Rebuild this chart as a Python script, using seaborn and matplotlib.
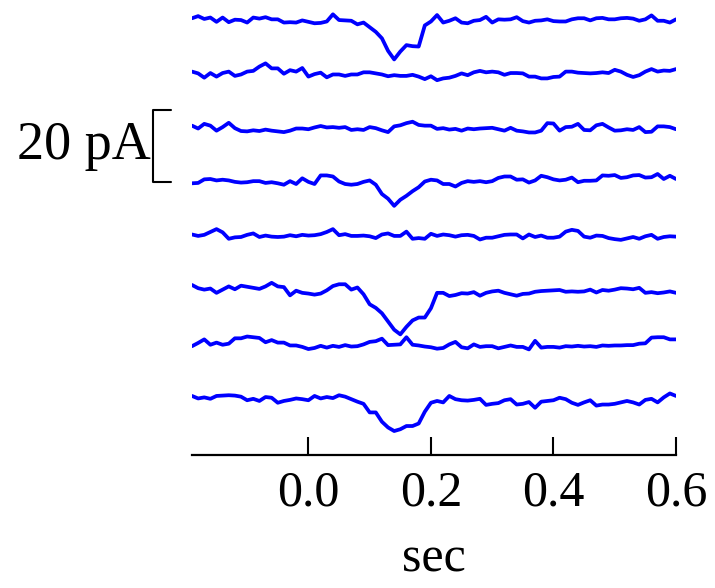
import numpy as np
import pandas as pd
import matplotlib
matplotlib.use("Agg")
import matplotlib.pyplot as plt
import matplotlib.transforms as mtransforms
import seaborn as sns

# ---- data (pA relative to each trace's baseline), sampled every 10 ms ----
time_s = np.round(np.arange(80) * 0.01 - 0.19, 2)

trace_1 = [0.5, 1.1, 0.3, 0.7, -0.5, 0.7, -0.6, 0.1, 0.0, -0.7,
           0.7, 0.4, 0.8, 0.2, 0.2, -0.7, -0.6, -0.7, -0.1, -0.5,
           -0.9, -0.8, -0.4, 1.6, 0.0, -0.1, -0.2, -1.2, -0.7, -2.0,
           -3.3, -5.1, -8.6, -11.0, -8.8, -7.0, -7.3, -7.4, -1.5, -0.4,
           1.4, -0.7, -0.2, 0.5, -0.7, -0.9, -0.2, 0.0, 0.9, -0.7,
           0.2, 0.1, 0.2, 0.8, -0.3, -0.7, -0.2, -0.1, 0.2, -0.3,
           -0.4, -0.4, 0.2, 0.5, 0.5, -0.1, 0.5, 0.6, 0.2, 0.2,
           0.5, 0.6, 0.4, -0.2, 0.2, 1.3, -0.2, -0.2, -0.7, 0.2]
trace_2 = [0.7, 0.2, -1.0, 0.3, -0.7, 0.3, 0.7, -0.5, -0.1, 0.7,
           0.9, 2.1, 3.0, 1.6, 1.6, 0.1, 1.1, 0.7, 1.7, -0.7,
           0.0, 0.4, -0.9, -0.1, -0.1, -0.5, -0.1, -0.1, 0.5, 0.5,
           0.2, -0.1, -0.6, -0.3, -0.5, -0.5, -0.2, -0.7, -1.4, -0.6,
           -1.7, -1.2, -1.0, -0.5, 0.2, -0.3, 0.5, 0.9, 0.5, 0.7,
           0.5, -0.2, 0.3, 0.3, 0.2, -0.7, -0.7, -1.2, -1.2, -0.8,
           -0.7, 0.7, 0.7, 0.4, 0.3, 0.2, 0.3, 0.5, 0.3, 1.2,
           0.7, -0.2, -0.8, -0.3, 0.7, 1.4, 0.7, 1.0, 0.9, 1.4]
trace_3 = [0.7, -0.1, 1.2, 0.7, -0.7, 0.3, 1.5, 0.0, -0.8, -0.9,
           -0.6, -0.8, -0.4, -0.7, -0.9, -1.1, -0.7, -0.1, -0.1, -0.3,
           0.2, 0.6, 0.2, 0.3, 0.1, 0.3, -0.5, -0.3, -0.5, 0.3,
           0.0, -0.6, -1.1, 0.5, 0.8, 1.4, 1.8, 0.9, 0.7, 0.7,
           -0.2, 0.0, -0.4, -0.2, -0.7, -0.1, -0.3, -0.1, 0.0, 0.1,
           -0.3, -0.7, 0.1, -0.7, -0.9, -1.2, -1.2, -0.7, 1.4, 1.3,
           -0.7, 0.3, 0.4, 1.2, -0.5, -0.6, 0.8, 1.2, 0.2, -0.7,
           -0.6, -0.3, -0.5, 0.3, -1.1, -1.0, 0.5, 0.5, 0.3, -0.3]
trace_4 = [-0.3, -0.2, 0.8, 0.9, 0.5, 0.7, 0.5, 0.1, -0.1, 0.0,
           0.3, 0.3, -0.2, 0.0, -0.3, -0.7, 0.3, -0.5, 1.1, 0.1,
           -0.5, 1.9, 1.9, 1.6, 0.2, -0.5, -0.7, -0.5, 0.1, 0.5,
           -0.7, -3.3, -4.6, -6.6, -4.9, -3.8, -2.5, -1.4, 0.2, 0.7,
           0.5, -0.5, -0.5, -1.2, -0.2, 0.3, 0.1, 0.3, 0.0, 0.3,
           1.2, 1.6, 1.6, 0.7, 0.8, -0.1, 0.5, 1.8, 1.4, 0.8,
           0.5, 0.7, 1.3, 0.0, 0.4, 0.4, 0.5, 1.9, 1.8, 2.0,
           1.2, 1.4, 1.9, 2.0, 1.3, 1.4, 2.3, 0.9, 1.8, 0.9]
trace_5 = [0.5, 0.1, 0.4, 1.2, 2.0, 1.1, -0.7, -0.3, -0.2, 0.4,
           0.8, -0.2, 0.2, -0.1, -0.2, -0.1, 0.3, 0.0, 0.4, 0.2,
           0.3, 0.6, 1.2, 2.0, 0.3, 0.6, 0.1, 0.1, 0.2, 0.0,
           -0.5, 0.5, 0.8, 0.1, 0.1, 1.3, -0.7, -0.5, -0.7, 0.7,
           0.1, 0.5, 0.3, -0.1, 0.3, 0.4, 0.1, -0.9, -0.4, -0.4,
           0.0, 0.4, 0.5, 0.5, -0.6, 0.5, -0.2, 0.2, -0.4, -0.4,
           -0.1, 1.3, 1.8, 1.5, -0.1, -0.4, 0.2, 0.1, -0.5, -0.8,
           -1.0, -0.6, -0.2, -0.7, 0.0, 0.4, -0.7, -0.2, 0.0, -0.1]
trace_6 = [1.5, 0.6, 0.2, 0.5, -0.7, 0.2, 1.1, 0.3, 1.3, 1.0,
           0.7, 0.4, 1.1, 2.1, 1.1, 0.9, -1.4, -0.1, -0.7, -0.9,
           -1.2, -0.9, 0.0, 1.2, 1.7, 1.7, 0.2, 0.8, -1.1, -3.9,
           -4.9, -6.4, -8.7, -11.0, -12.3, -10.2, -8.4, -7.6, -7.6, -5.0,
           -0.7, -0.7, -1.6, -1.3, -0.8, -0.9, -0.5, -1.5, -0.7, -0.3,
           -0.1, -0.7, -1.1, -1.5, -1.0, -0.9, -0.4, -0.2, -0.1, 0.0,
           0.1, -0.4, -0.3, -0.4, -0.3, 0.2, -0.6, 0.1, -0.1, 0.2,
           0.6, 0.5, 0.3, 0.7, -0.7, -0.5, -0.8, -0.6, -0.3, -0.7]
trace_7 = [-0.5, 0.4, 1.4, -0.1, 0.5, -0.1, 0.2, 1.7, 1.7, 2.2,
           2.0, 1.8, 0.6, 1.2, 0.5, 0.5, -0.3, -0.3, -0.7, -1.3,
           -1.0, -0.4, -0.9, -0.4, -0.7, -0.2, -0.6, -0.5, 0.0, 0.7,
           0.9, 1.6, -0.2, -0.1, 0.0, 2.0, -0.1, -0.3, -0.6, -0.8,
           -1.2, -1.0, 0.0, 0.7, -0.8, -1.1, 0.0, -0.7, -0.5, -0.5,
           -1.1, -0.7, -0.3, -0.7, -0.7, -1.4, 1.0, -0.9, -0.7, -0.7,
           -0.9, -0.5, -0.6, -0.4, -0.6, -0.5, -0.7, -0.3, -0.4, -0.3,
           -0.3, -0.2, -0.2, 0.2, 0.3, 1.9, 2.0, 2.0, 1.4, 1.4]
trace_8 = [0.7, 0.0, 0.3, -0.1, 0.7, 0.8, 0.9, 0.8, 0.5, -0.5,
           -0.1, -0.7, 0.4, 0.2, -1.2, -0.7, -0.4, 0.0, -0.2, -0.5,
           0.7, 0.0, 0.4, 0.1, 0.9, 0.5, -0.2, -0.9, -1.5, -3.9,
           -3.9, -6.5, -8.1, -9.1, -8.6, -7.7, -7.7, -7.0, -3.7, -1.2,
           -0.7, -1.1, 0.7, -0.2, -0.5, -0.6, -0.4, -0.1, -1.8, -1.5,
           -1.3, -0.5, -0.2, -1.7, -1.5, -1.0, -2.6, -0.9, -0.7, -0.5,
           0.2, -0.2, -1.2, -1.8, -1.1, -0.5, -2.0, -1.7, -1.7, -1.5,
           -1.1, -0.7, -1.1, -1.7, -0.4, -0.1, -1.1, 0.3, 1.4, 0.7]

traces = [trace_1, trace_2, trace_3, trace_4, trace_5, trace_6, trace_7, trace_8]
scale_bar_pA = 20
tick_values = [0.0, 0.2, 0.4, 0.6]
tick_labels = ["0.0", "0.2", "0.4", "0.6"]
x_label = "sec"

# ---- layout ----
spacing = 15.1   # vertical separation between sweeps (pA)
rows = []
for i, tr in enumerate(traces):
    for t, v in zip(time_s, tr):
        rows.append({"t": t, "current": v - i * spacing, "sweep": i})
df = pd.DataFrame(rows)

sns.set_style("white")
plt.rcParams["font.family"] = ["Liberation Serif", "DejaVu Serif"]
plt.rcParams["text.color"] = "black"
plt.rcParams["axes.labelcolor"] = "black"

fig = plt.figure(figsize=(7.15, 5.88), dpi=100)
ax = fig.add_axes([192 / 715, 1 - 455 / 588, 484 / 715, 455 / 588])

sns.lineplot(data=df, x="t", y="current", units="sweep", estimator=None,
             color="#0000ff", linewidth=2.7, ax=ax, legend=False)

ax.set_xlim(-0.19, 0.60)
top = 5.6
ax.set_ylim(top - 455 / 3.58, top)

for s in ["left", "right", "top"]:
    ax.spines[s].set_visible(False)
ax.spines["bottom"].set_linewidth(1.6)
ax.spines["bottom"].set_color("black")
ax.set_yticks([])
ax.set_xticks(tick_values)
ax.set_xticklabels(tick_labels)
ax.tick_params(axis="x", bottom=True, direction="in", length=13, width=1.5,
               pad=11, labelsize=36, colors="black", labelcolor="black")
ax.set_xlabel(x_label, fontsize=36, labelpad=14, color="black")
ax.set_ylabel("")

# scale bar bracket (20 pA)
trans = mtransforms.blended_transform_factory(ax.transAxes, ax.transData)
y_top = top - 110 / 3.58
y_bot = y_top - scale_bar_pA
xb0, xb1 = (153 - 192) / 484, (171 - 192) / 484
ax.plot([xb1, xb0, xb0, xb1], [y_top, y_top, y_bot, y_bot], color="black",
        linewidth=1.5, transform=trans, clip_on=False)
ax.text(xb0 - 0.004, (y_top + y_bot) / 2, f"{scale_bar_pA} pA", transform=trans,
        ha="right", va="center", fontsize=39, color="black")

fig.savefig("out.png", dpi=100)
